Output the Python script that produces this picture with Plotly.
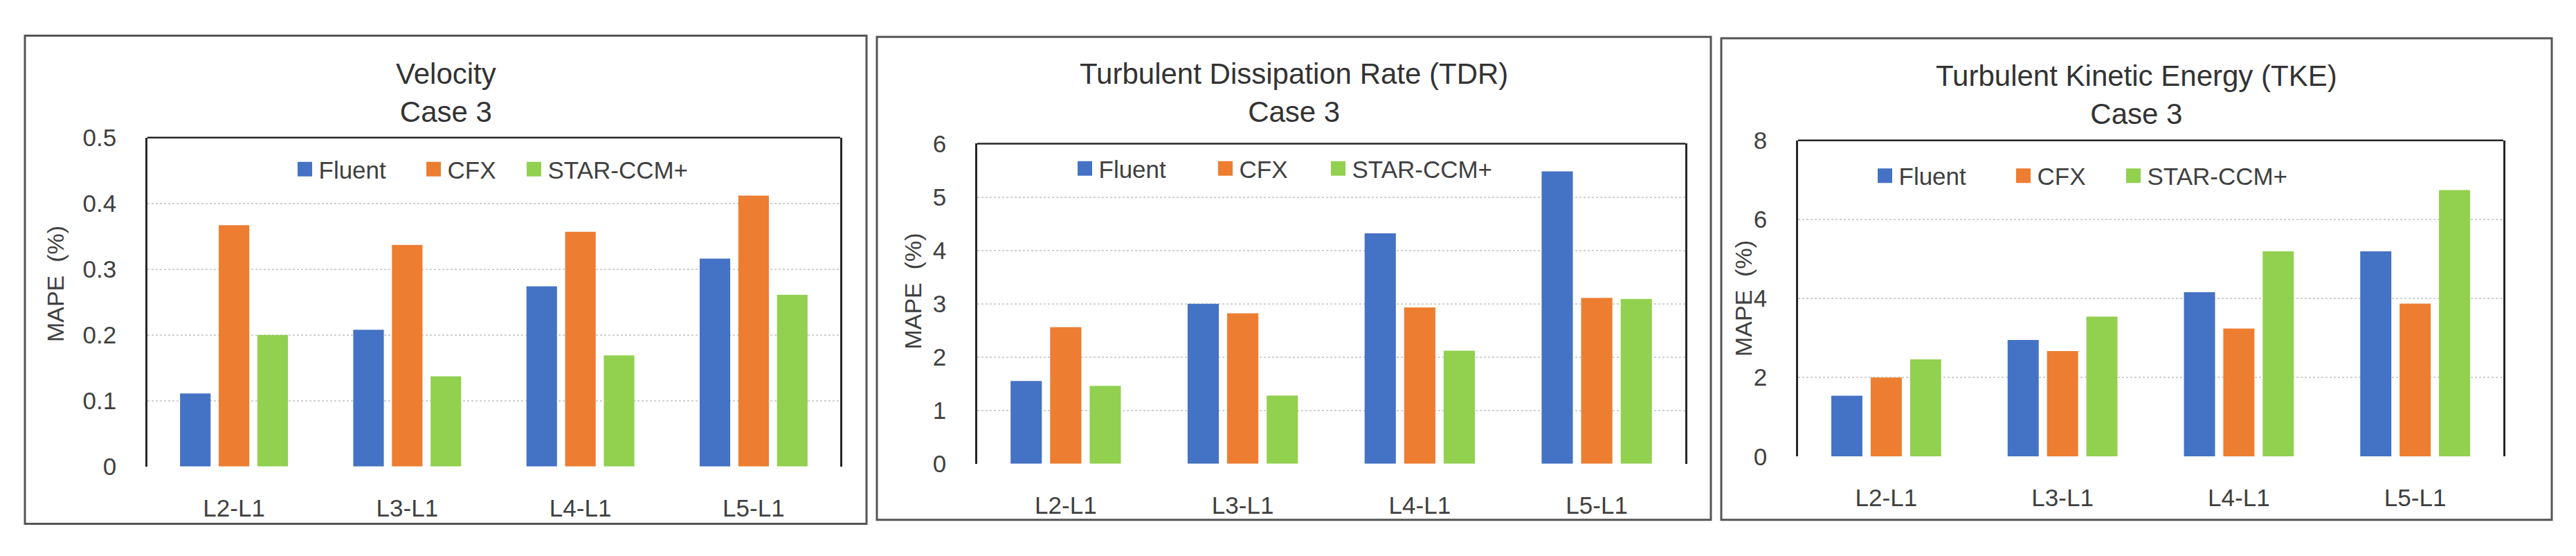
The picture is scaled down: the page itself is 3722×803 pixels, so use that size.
import plotly.graph_objects as go

# ---------------- data ----------------
categories = ["L2-L1", "L3-L1", "L4-L1", "L5-L1"]
series_names = ["Fluent", "CFX", "STAR-CCM+"]
series_colors = ["#4472C4", "#ED7D31", "#92D050"]

velocity_fluent = [0.111, 0.208, 0.274, 0.316]
velocity_cfx = [0.367, 0.337, 0.357, 0.412]
velocity_star = [0.200, 0.137, 0.169, 0.261]

tdr_fluent = [1.55, 3.00, 4.32, 5.48]
tdr_cfx = [2.56, 2.82, 2.93, 3.11]
tdr_star = [1.46, 1.28, 2.12, 3.09]

tke_fluent = [1.54, 2.95, 4.16, 5.19]
tke_cfx = [2.00, 2.67, 3.24, 3.87]
tke_star = [2.46, 3.54, 5.19, 6.74]

panel_titles = ["Velocity<br>Case 3",
                "Turbulent Dissipation Rate (TDR)<br>Case 3",
                "Turbulent Kinetic Energy (TKE)<br>Case 3"]
y_title = "MAPE  (%)"
y_ranges = [[0, 0.5], [0, 6], [0, 8]]
y_dticks = [0.1, 1, 2]

panel_values = [
    [velocity_fluent, velocity_cfx, velocity_star],
    [tdr_fluent, tdr_cfx, tdr_star],
    [tke_fluent, tke_cfx, tke_star],
]

# ---------------- layout (pixels) ----------------
W, H = 3722, 803
FONT = "Liberation Sans, Arial, sans-serif"
TXT = "#404040"

panels = [
    dict(plot=(213, 1214, 188, 687), box=(36, 1252, 33, 774), title_y=120,
         ytitle=(80, 410), legend_x=[430, 616, 761], legend_y=236),
    dict(plot=(1412, 2435, 197, 683), box=(1267, 2472, 35, 768), title_y=120,
         ytitle=(1319, 421), legend_x=[1557, 1760, 1923], legend_y=235),
    dict(plot=(2598, 3617, 192, 672), box=(2487, 3687, 37, 768), title_y=123,
         ytitle=(2519, 432), legend_x=[2713, 2913, 3072], legend_y=246),
]


def fx(x):
    return x / W


def fy(y):
    return 1 - y / H


fig = go.Figure()
layout = dict(
    width=W, height=H,
    margin=dict(l=0, r=0, t=0, b=0),
    paper_bgcolor="white", plot_bgcolor="white",
    barmode="group", bargap=0.33, bargroupgap=0.21,
    font=dict(family=FONT, color=TXT),
    showlegend=True,
)
shapes = []
annotations = []

legend_index = 0
for p, (panel, values) in enumerate(zip(panels, panel_values)):
    suffix = "" if p == 0 else str(p + 1)
    xa, ya = "x" + suffix, "y" + suffix
    x0, x1, y0, y1 = panel["plot"]

    for s, name in enumerate(series_names):
        fig.add_trace(go.Bar(
            x=categories, y=values[s], name=name,
            marker=dict(color=series_colors[s], line=dict(width=0)),
            xaxis=xa, yaxis=ya, showlegend=False,
            legendgroup=f"p{p}-{name}",
        ))
        # legend entry (one legend per item, placed like the reference)
        legend_index += 1
        lname = "legend" if legend_index == 1 else f"legend{legend_index}"
        fig.add_trace(go.Scatter(
            x=[None], y=[None], mode="markers", name=name,
            marker=dict(symbol="square", size=16, color=series_colors[s],
                        line=dict(color=series_colors[s], width=5)),
            xaxis=xa, yaxis=ya, legend=lname, legendgroup=f"p{p}-{name}",
            hoverinfo="skip",
        ))
        layout[lname] = dict(
            x=fx(panel["legend_x"][s] - 9.5), y=fy(panel["legend_y"]),
            xanchor="left", yanchor="middle", orientation="h",
            bgcolor="rgba(0,0,0,0)", borderwidth=0,
            font=dict(family=FONT, size=35, color=TXT),
        )

    layout["xaxis" + suffix] = dict(
        domain=[fx(x0), fx(x1)], anchor=ya,
        type="category", showgrid=False, showline=False, zeroline=False,
        ticks="", ticklabelstandoff=36,
        tickfont=dict(family=FONT, size=35, color=TXT),
    )
    layout["yaxis" + suffix] = dict(
        domain=[fy(y1), fy(y0)], anchor=xa,
        range=y_ranges[p], dtick=y_dticks[p], tick0=0,
        showgrid=True, gridcolor="#D0D0D0", gridwidth=2, griddash="dot",
        zeroline=False, showline=True, linecolor="#262626", linewidth=2.5,
        mirror=True, ticks="", ticklabelstandoff=35,
        tickfont=dict(family=FONT, size=35, color=TXT),
    )

    # top border of the plot area
    shapes.append(dict(type="line", xref=xa + " domain", yref=ya + " domain",
                       x0=0, x1=1, y0=1, y1=1,
                       line=dict(color="#262626", width=2.5)))
    # outer chart frame
    bx0, bx1, by0, by1 = panel["box"]
    shapes.append(dict(type="rect", xref="paper", yref="paper",
                       x0=fx(bx0), x1=fx(bx1), y0=fy(by1), y1=fy(by0),
                       line=dict(color="#555555", width=3),
                       fillcolor="rgba(0,0,0,0)"))
    # chart title
    annotations.append(dict(
        text=panel_titles[p], xref="paper", yref="paper",
        x=fx((bx0 + bx1) / 2), y=fy(panel["title_y"]),
        xanchor="center", yanchor="middle", showarrow=False,
        font=dict(family=FONT, size=42, color="#333333"),
    ))
    # y axis title
    tx, ty = panel["ytitle"]
    annotations.append(dict(
        text=y_title, xref="paper", yref="paper",
        x=fx(tx), y=fy(ty), xanchor="center", yanchor="middle",
        textangle=-90, showarrow=False,
        font=dict(family=FONT, size=34, color=TXT),
    ))

layout["shapes"] = shapes
layout["annotations"] = annotations
fig.update_layout(**layout)

fig.write_html(
    "out.html",
    config={"displayModeBar": False},
    post_script="document.body.style.margin='0';document.body.style.overflow='hidden';",
)
